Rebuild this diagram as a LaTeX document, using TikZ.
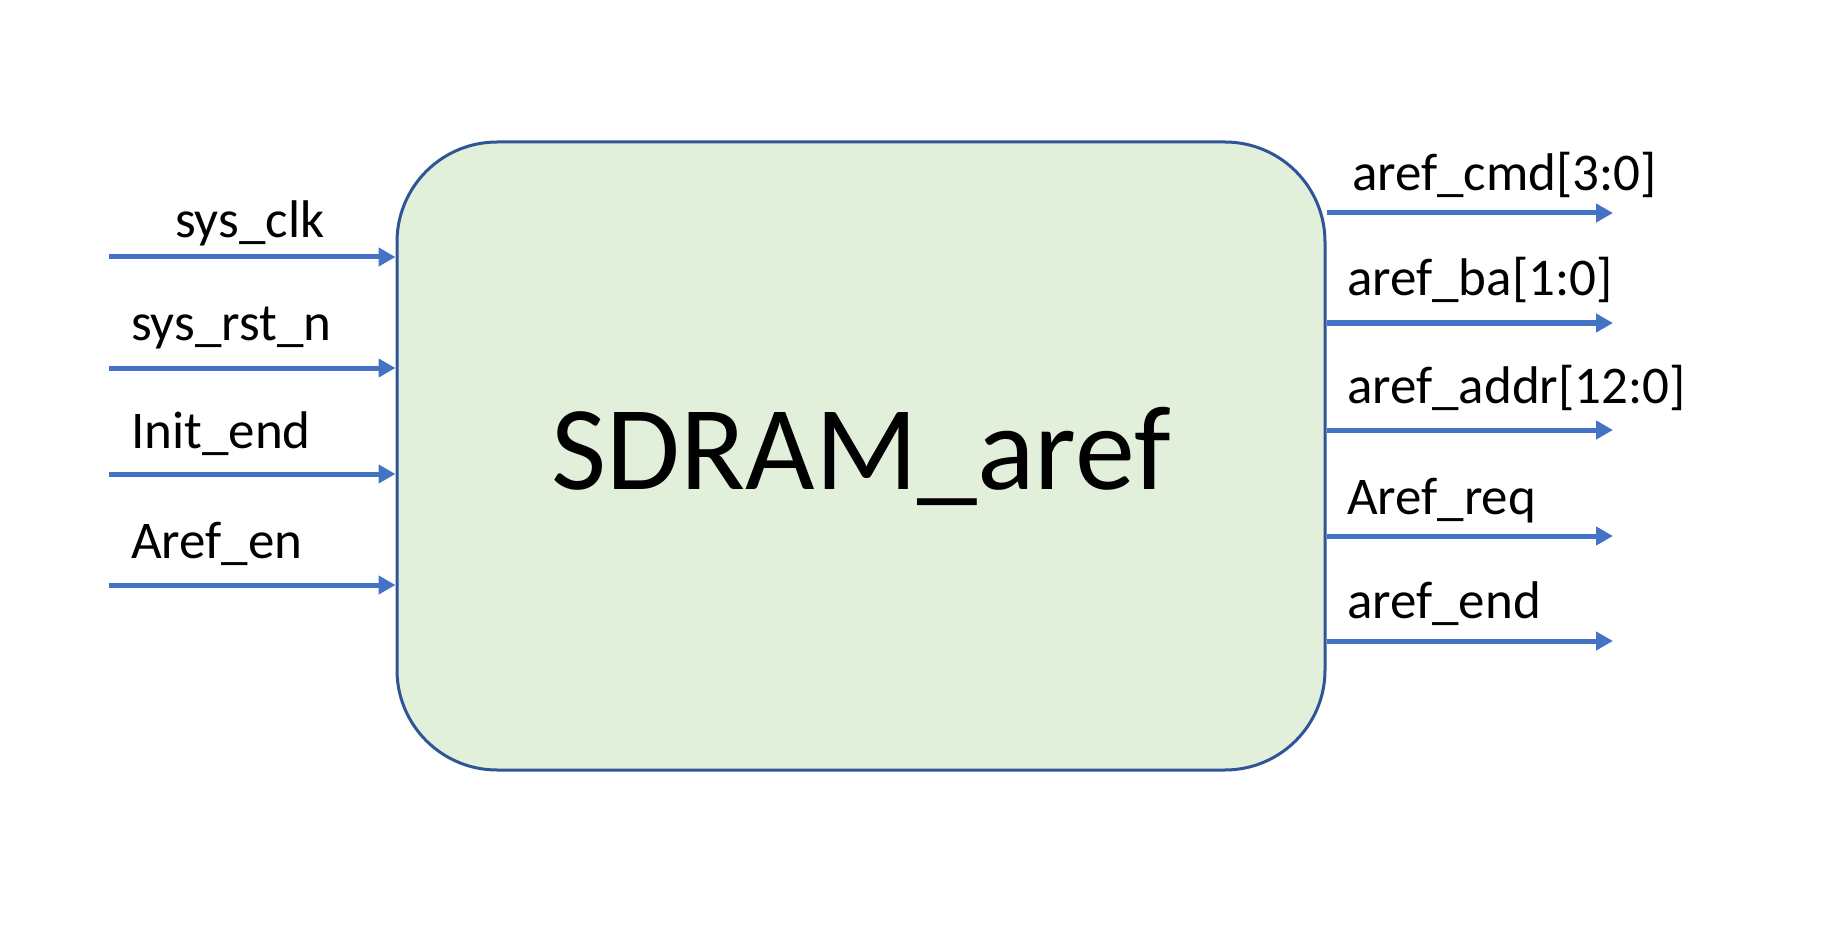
\documentclass[tikz,border=0pt]{standalone}
\usepackage{fontspec}
\setmainfont{Carlito}
\usetikzlibrary{arrows.meta}
\definecolor{sigblue}{HTML}{4472C4}
\definecolor{boxline}{HTML}{2F5597}
\definecolor{boxfill}{HTML}{E2EFDA}
\tikzset{
  sig/.style={draw=sigblue, line width=5pt, -{Triangle[length=17pt,width=18pt]}},
  lbl/.style={anchor=base west, inner sep=0pt, font=\fontsize{53pt}{60pt}\selectfont},
  block/.style={draw=boxline, line width=3pt, fill=boxfill, rounded corners=100pt,
    minimum width=928pt, minimum height=628pt, inner sep=0pt}
}
\begin{document}
\begin{tikzpicture}[x=1pt,y=-1pt]
\useasboundingbox (0,0) rectangle (1823,925);
\node[block] (box) at (861,456) {};
\node[anchor=base, inner sep=0pt, font=\fontsize{120pt}{140pt}\selectfont] (title) at (861,489) {SDRAM\_aref};
% inputs
\coordinate (i1) at (109,257);
\coordinate (i2) at (109,368);
\coordinate (i3) at (109,474);
\coordinate (i4) at (109,585);
\foreach \n in {1,2,3,4} \draw[sig] (i\n) -- (i\n -| box.west);
\node[lbl] (l1) at (175,238) {sys\_clk};
\node[lbl] (l2) at (131,340) {sys\_rst\_n};
\node[lbl] (l3) at (131,448) {Init\_end};
\node[lbl] (l4) at (131,558) {Aref\_en};
% outputs
\coordinate (o1) at (1613,213);
\coordinate (o2) at (1613,323);
\coordinate (o3) at (1613,430);
\coordinate (o4) at (1613,536);
\coordinate (o5) at (1613,641);
\foreach \n in {1,2,3,4,5} \draw[sig] (o\n -| box.east) -- (o\n);
\node[lbl] (r1) at (1352,191) {aref\_cmd[3:0]};
\node[lbl] (r2) at (1347,295) {aref\_ba[1:0]};
\node[lbl] (r3) at (1347,403) {aref\_addr[12:0]};
\node[lbl] (r4) at (1347,514) {Aref\_req};
\node[lbl] (r5) at (1347,618) {aref\_end};
\end{tikzpicture}
\end{document}
